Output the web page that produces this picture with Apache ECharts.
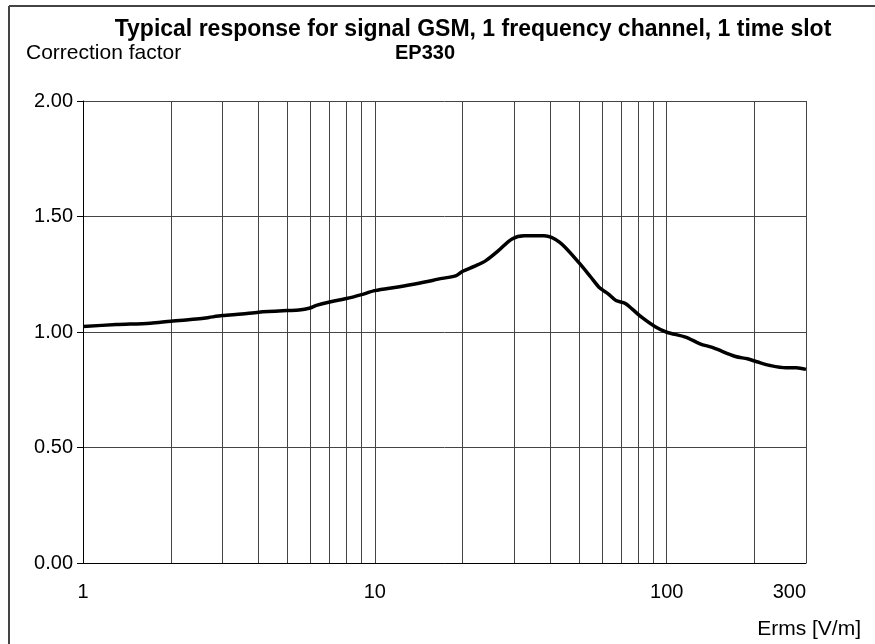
<!DOCTYPE html>
<html>
<head>
<meta charset="utf-8">
<script src="https://cdn.jsdelivr.net/npm/echarts@6/dist/echarts.min.js"></script>
<style>
	html, body { margin: 0; padding: 0; background: #fff; }
	#chart { width: 875px; height: 644px; }
</style>
</head>
<body>
<div id="chart"></div>
<script>
// values
const erms = [1, 1.3, 1.7, 2, 2.5, 2.7, 3, 3.5, 4, 5, 5.5, 6, 6.3, 7, 8, 9, 10, 12, 14, 17, 19, 20, 22, 24, 26.5, 29.5, 32.5, 38, 43, 50, 55, 59, 63, 67, 72, 76, 82, 91, 100, 116, 130, 144, 172, 189, 205, 226, 256, 278, 300]
const factor = [1.024, 1.032, 1.038, 1.047, 1.057, 1.063, 1.071, 1.078, 1.086, 1.093, 1.095, 1.104, 1.115, 1.13, 1.145, 1.162, 1.179, 1.195, 1.21, 1.232, 1.244, 1.263, 1.285, 1.309, 1.352, 1.403, 1.417, 1.417, 1.388, 1.30, 1.237, 1.19, 1.165, 1.136, 1.124, 1.10, 1.064, 1.024, 0.999, 0.978, 0.949, 0.932, 0.894, 0.884, 0.87, 0.855, 0.845, 0.845, 0.838]
const xLabels = [1, 10, 100, 300]
const xGrid = [1, 2, 3, 4, 5, 6, 7, 8, 9, 10, 20, 30, 40, 50, 60, 70, 80, 90, 100, 200, 300]

const font = 'Arial, "Liberation Sans", sans-serif'
const gridColor = '#444'

let myChart = echarts.init(document.getElementById('chart'))
let option = {
	animation: false,
	backgroundColor: '#fff',
	title: [
		{
			text: 'Typical response for signal GSM, 1 frequency channel, 1 time slot',
			left: 468,
			top: 13,
			textAlign: 'center',
			textStyle: { fontFamily: font, fontSize: 23, fontWeight: 'bold', color: '#000' },
		},
		{
			text: 'EP330',
			left: 420,
			top: 38,
			textAlign: 'center',
			textStyle: { fontFamily: font, fontSize: 20, fontWeight: 'bold', color: '#000' },
		},
		{
			text: 'Correction factor',
			left: 21,
			top: 38,
			textStyle: { fontFamily: font, fontSize: 21, fontWeight: 'normal', color: '#000' },
		},
		{
			text: 'Erms [V/m]',
			right: 9,
			top: 614,
			textStyle: { fontFamily: font, fontSize: 21, fontWeight: 'normal', color: '#000' },
		},
	],
	graphic: [
		{ type: 'line', shape: { x1: 9, y1: 6, x2: 875, y2: 6 }, style: { stroke: '#444', lineWidth: 2 } },
		{ type: 'line', shape: { x1: 9, y1: 6, x2: 9, y2: 644 }, style: { stroke: '#444', lineWidth: 2 } },
	],
	grid: { left: 83, right: 69, top: 101, bottom: 81 },
	xAxis: {
		type: 'log',
		logBase: 10,
		min: 1,
		max: 300,
		axisLine: { show: true, lineStyle: { color: '#000', width: 1 } },
		axisTick: { show: false, customValues: xGrid },
		axisLabel: {
			customValues: xLabels,
			margin: 19,
			alignMaxLabel: 'right',
			fontFamily: font,
			fontSize: 20,
			color: '#000',
		},
		splitLine: { show: true, lineStyle: { color: gridColor, width: 1 } },
	},
	yAxis: {
		type: 'value',
		min: 0,
		max: 2,
		interval: 0.5,
		axisLine: { show: true, lineStyle: { color: '#000', width: 1 } },
		axisTick: { show: true, length: 6, lineStyle: { color: '#000' } },
		axisLabel: {
			margin: 10,
			fontFamily: font,
			fontSize: 20,
			color: '#000',
			formatter: (v) => v.toFixed(2),
		},
		splitLine: { show: true, lineStyle: { color: gridColor, width: 1 } },
	},
	series: [
		{
			type: 'line',
			data: erms.map((e, i) => [e, factor[i]]),
			showSymbol: false,
			smooth: 0.3,
			lineStyle: { color: '#000', width: 3.5 },
		},
	],
}
option && myChart.setOption(option)
</script>
</body>
</html>
